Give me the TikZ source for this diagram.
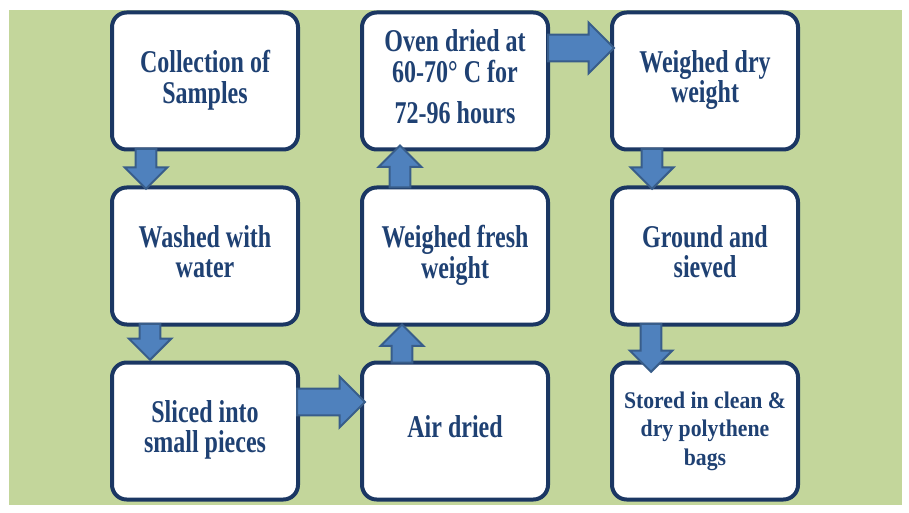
\documentclass[tikz,border=0pt]{standalone}
\usepackage{fontspec}
\setmainfont{Liberation Serif}
\usepackage{graphicx}
\usetikzlibrary{positioning,shapes.arrows}
\definecolor{bggreen}{HTML}{C3D69B}
\definecolor{boxnavy}{HTML}{1B3763}
\definecolor{txtnavy}{HTML}{1F4173}
\definecolor{arrfill}{HTML}{4F81BD}
\definecolor{arrline}{HTML}{385D8A}
\newcommand{\boxlines}[2][1.32]{\scalebox{1}[#1]{\begin{tabular}{@{}c@{}}#2\end{tabular}}}
\tikzstyle{stepbox}  = [rectangle, rounded corners=11pt, draw=boxnavy, line width=3pt, fill=white, minimum width=139.5pt, minimum height=102.75pt, inner sep=0pt, text=txtnavy, font=\bfseries\fontsize{18}{17}\selectfont]
\tikzstyle{blockarr} = [single arrow, fill=arrfill, draw=arrline, line width=1.5pt, inner sep=0pt, outer sep=0pt, anchor=tail]
\tikzstyle{downarr}  = [blockarr, inner ysep=7pt, single arrow head extend=8.25pt, rotate=-90]
\tikzstyle{uparr}    = [blockarr, inner ysep=7pt, single arrow head extend=8.25pt, rotate=90]
\tikzstyle{rightarr} = [blockarr, inner ysep=9.25pt, single arrow head extend=9pt]

\begin{document}
\begin{tikzpicture}[x=0.75pt, y=0.75pt]
	% page and green panel
	\fill[white] (0,0) rectangle (909,-513);
	\fill[bggreen] (9,-10) rectangle (902,-505);

	% first column
	\node[stepbox] (collect) at (205,-81) {\boxlines{Collection of\\Samples}};
	\node[stepbox, below=25.5pt of collect] (wash) {\boxlines{Washed with\\water}};
	\node[stepbox, below=25.5pt of wash] (slice) {\boxlines{Sliced into\\small pieces}};

	% second column
	\node[stepbox, right=45pt of slice] (airdry) {\boxlines{Air dried}};
	\node[stepbox, above=25.5pt of airdry] (fresh) {\boxlines{Weighed fresh\\weight}};
	\node[stepbox, above=25.5pt of fresh] (oven) {\boxlines{Oven dried at\\60-70° C for\\[6pt]72-96 hours}};

	% third column
	\node[stepbox, right=45pt of oven] (drywt) {\boxlines{Weighed dry\\weight}};
	\node[stepbox, below=25.5pt of drywt] (ground) {\boxlines{Ground and\\sieved}};
	\node[stepbox, below=25.5pt of ground, font=\bfseries\fontsize{16.3}{19.5}\selectfont] (store) {\boxlines[1.1]{Stored in clean \&\\dry polythene\\bags}};

	% block arrows
	\node[downarr, minimum height=30pt] (collect-wash) at ([xshift=-44.25pt, yshift=2pt]collect.south) {};
	\node[downarr, minimum height=27pt] (wash-slice) at ([xshift=-41.25pt, yshift=2pt]wash.south) {};
	\node[rightarr, minimum height=51pt] (slice-air) at ([xshift=-2.25pt, yshift=21.75pt]slice.east) {};
	\node[uparr, minimum height=28.5pt] (air-fresh) at ([xshift=-39.75pt, yshift=-1.5pt]airdry.north) {};
	\node[uparr, minimum height=31.5pt] (fresh-oven) at ([xshift=-41.25pt, yshift=-1.5pt]fresh.north) {};
	\node[rightarr, minimum height=49.5pt] (oven-dry) at ([xshift=-1.5pt, yshift=24.75pt]oven.east) {};
	\node[downarr, minimum height=30pt] (dry-ground) at ([xshift=-39.75pt, yshift=2pt]drywt.south) {};
	\node[downarr, minimum height=36pt] (ground-store) at ([xshift=-40.5pt, yshift=2pt]ground.south) {};
\end{tikzpicture}
\end{document}
